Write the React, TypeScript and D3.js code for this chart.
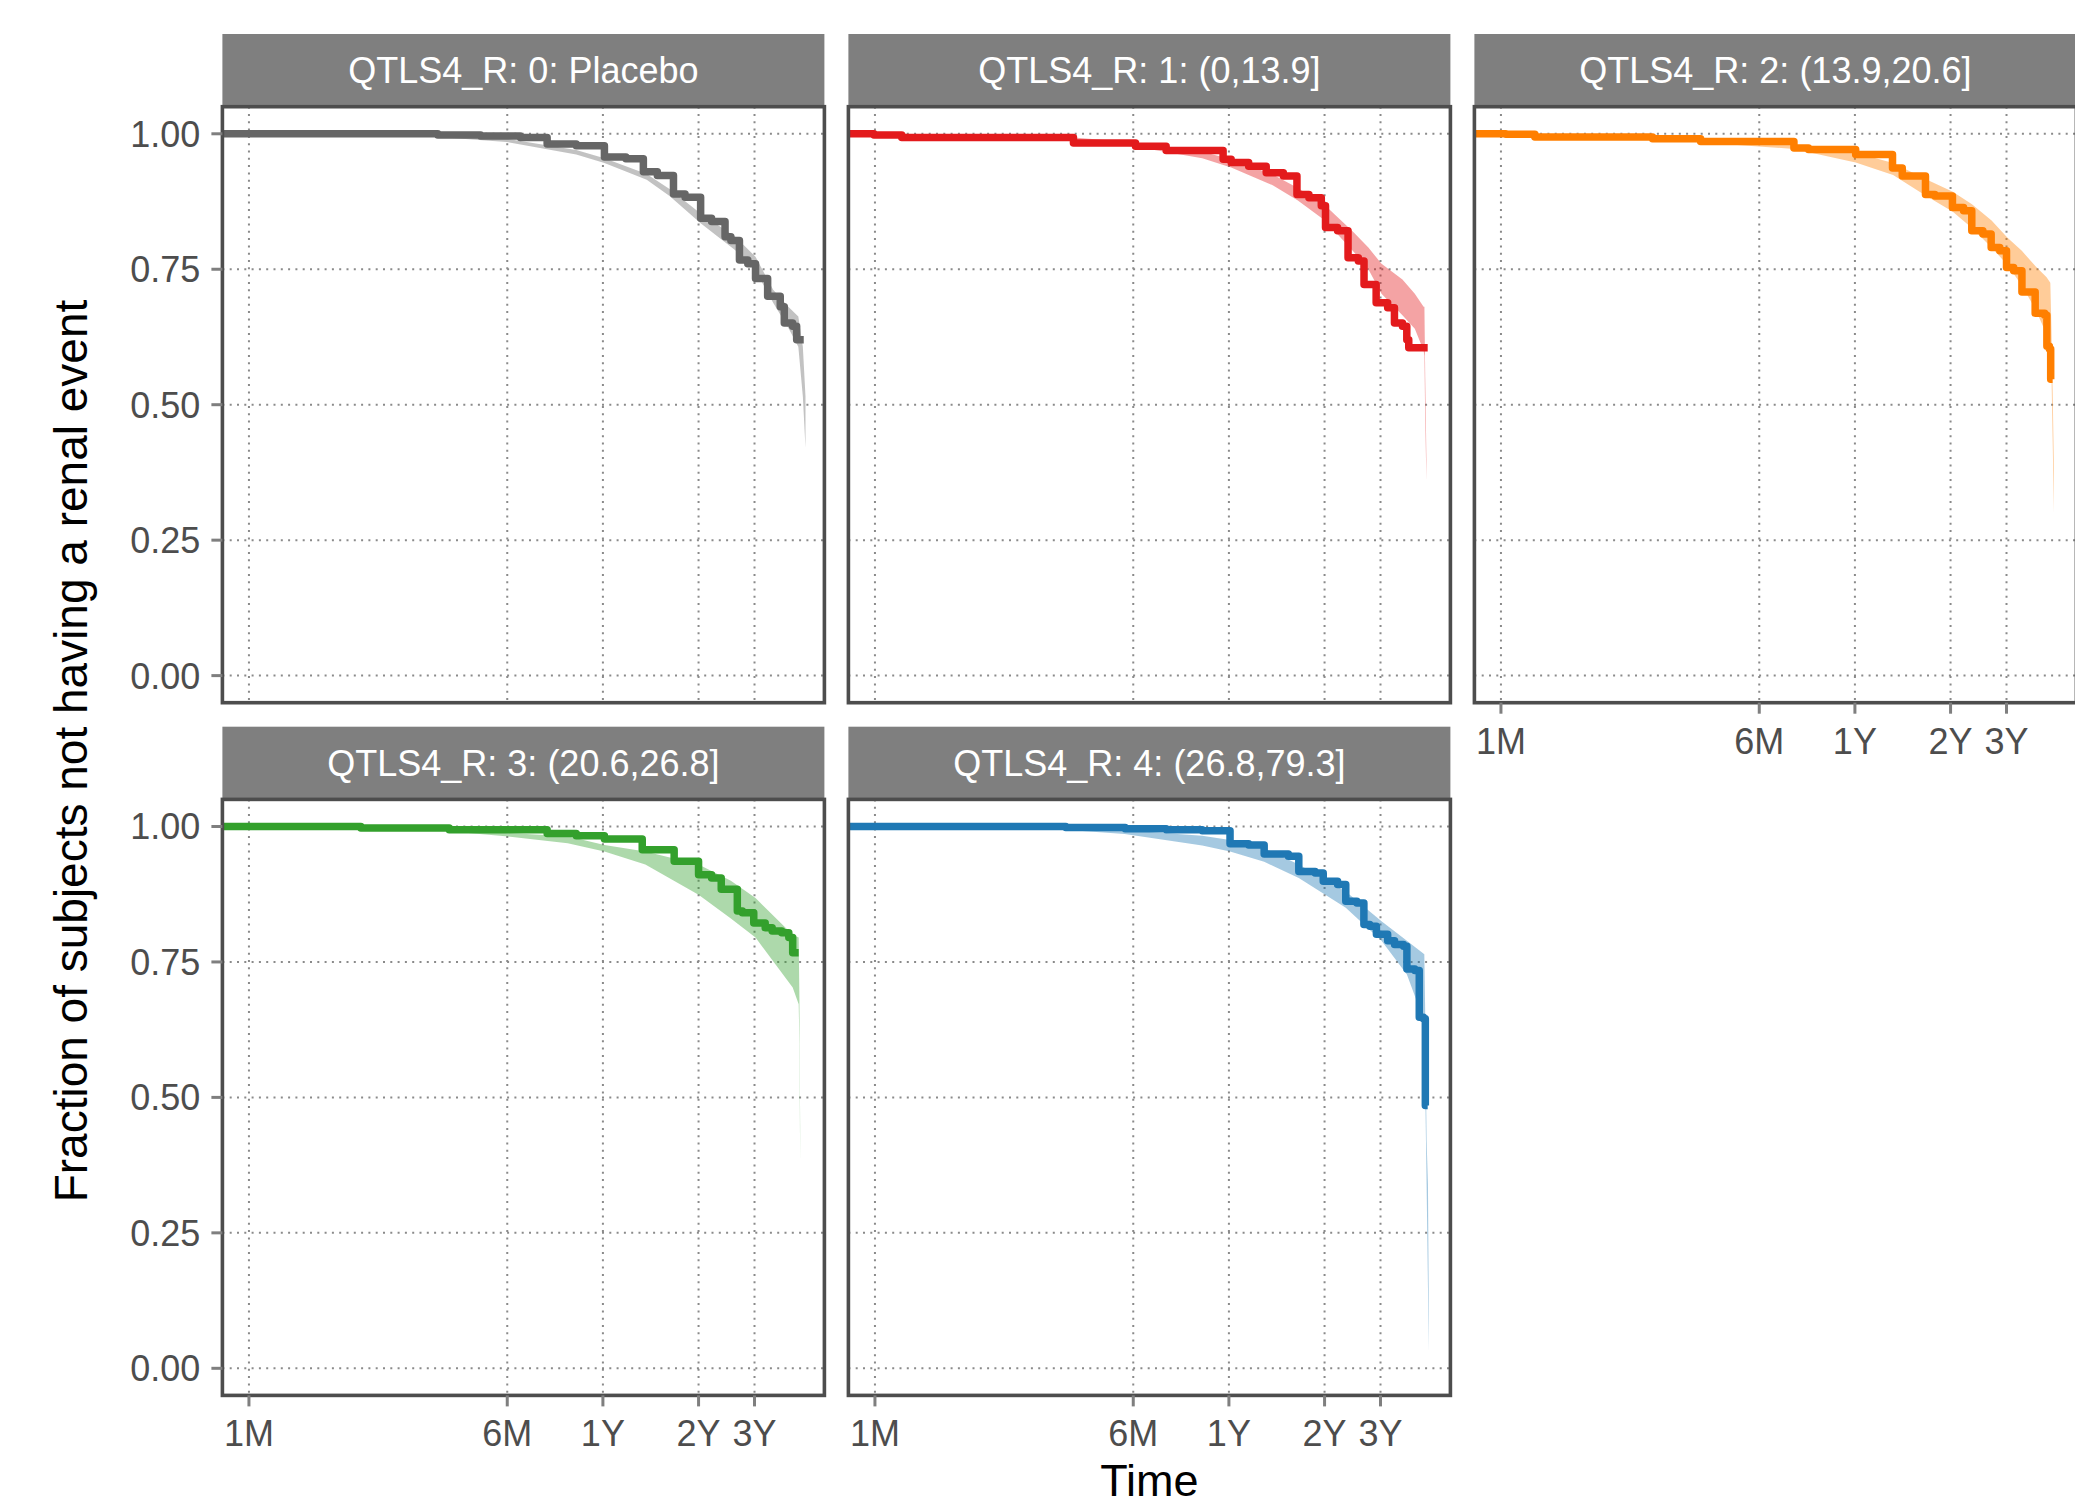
import React from 'react';
import * as d3 from 'd3';

// facet strip labels
const facetLabels = [
  'QTLS4_R: 0: Placebo',
  'QTLS4_R: 1: (0,13.9]',
  'QTLS4_R: 2: (13.9,20.6]',
  'QTLS4_R: 3: (20.6,26.8]',
  'QTLS4_R: 4: (26.8,79.3]',
];

// axis ticks (time in days, log scale)
const xTickDays = [28, 182, 364, 728, 1092];
const xTickLabels = ['1M', '6M', '1Y', '2Y', '3Y'];
const yTicks = [0, 0.25, 0.5, 0.75, 1];
const yTickLabels = ['0.00', '0.25', '0.50', '0.75', '1.00'];

// Kaplan-Meier step curves (time in days, fraction event free)
const placeboTime = [1, 110, 150, 200, 243, 300, 368, 430, 488, 540, 607, 660, 739, 800, 882, 920, 979, 1040, 1100, 1201, 1316, 1355, 1439, 1482, 1560];
const placeboSurv = [1.0, 0.998, 0.996, 0.993, 0.981, 0.978, 0.957, 0.954, 0.93, 0.923, 0.889, 0.883, 0.844, 0.838, 0.81, 0.803, 0.767, 0.76, 0.733, 0.7, 0.681, 0.651, 0.645, 0.62, 0.62];
const q1Time = [1, 27.8, 34, 118, 185, 231, 349, 370, 420, 477, 540, 596, 650, 711, 733, 800, 863, 930, 969, 1058, 1150, 1208, 1280, 1321, 1340, 1537];
const q1Surv = [1.0, 0.998, 0.993, 0.983, 0.977, 0.969, 0.953, 0.947, 0.94, 0.928, 0.922, 0.888, 0.882, 0.867, 0.827, 0.821, 0.771, 0.765, 0.722, 0.688, 0.679, 0.651, 0.645, 0.62, 0.605, 0.605];
const q2Time = [1, 29, 35.8, 84, 119, 234, 260, 366, 478, 513, 607, 650, 738, 800, 849, 920, 977, 1040, 1092, 1150, 1221, 1344, 1440, 1463, 1490, 1504, 1525];
const q2Surv = [1.0, 0.999, 0.994, 0.991, 0.986, 0.974, 0.971, 0.962, 0.937, 0.922, 0.888, 0.885, 0.864, 0.858, 0.821, 0.815, 0.79, 0.784, 0.753, 0.747, 0.708, 0.669, 0.665, 0.608, 0.603, 0.547, 0.547];
const q3Time = [1, 63, 119.5, 243, 300, 368, 484, 610, 728, 800, 858, 964, 1000, 1086, 1180, 1241, 1330, 1400, 1440, 1504];
const q3Surv = [1.0, 0.997, 0.994, 0.987, 0.983, 0.977, 0.957, 0.936, 0.911, 0.905, 0.884, 0.844, 0.841, 0.822, 0.813, 0.807, 0.804, 0.795, 0.767, 0.767];
const q4Time = [1, 111.6, 171.6, 231, 300, 367, 420, 470, 560, 604, 680, 721, 800, 849, 920, 968, 1010, 1060, 1150, 1209, 1290, 1322, 1400, 1446, 1490, 1511, 1537];
const q4Surv = [1.0, 0.998, 0.996, 0.994, 0.992, 0.968, 0.966, 0.949, 0.945, 0.917, 0.914, 0.899, 0.893, 0.862, 0.859, 0.819, 0.816, 0.801, 0.789, 0.782, 0.779, 0.737, 0.734, 0.648, 0.645, 0.485, 0.485];

// model prediction bands (time, lower, upper)
const placeboBandTime = [1, 60, 100, 181, 300, 368, 500, 590, 739, 950, 1100, 1250, 1400, 1500, 1550, 1580];
const placeboBandLower = [1.0, 0.999, 0.996, 0.985, 0.962, 0.946, 0.915, 0.885, 0.835, 0.785, 0.748, 0.688, 0.64, 0.607, 0.515, 0.42];
const placeboBandUpper = [1.0, 1.0, 0.999, 0.991, 0.97, 0.955, 0.926, 0.898, 0.853, 0.81, 0.773, 0.712, 0.68, 0.663, 0.607, 0.515];
const q1BandTime = [1, 60, 118, 185, 300, 370, 500, 600, 730, 900, 1000, 1100, 1280, 1400, 1492, 1501, 1510, 1523];
const q1BandLower = [1.0, 0.997, 0.988, 0.976, 0.955, 0.938, 0.905, 0.877, 0.84, 0.782, 0.75, 0.705, 0.665, 0.64, 0.6, 0.59, 0.47, 0.36];
const q1BandUpper = [1.0, 0.999, 0.993, 0.984, 0.967, 0.953, 0.925, 0.9, 0.868, 0.818, 0.79, 0.76, 0.731, 0.705, 0.681, 0.681, 0.55, 0.4];
const q2BandTime = [1, 60, 120, 234, 366, 480, 600, 740, 850, 980, 1100, 1220, 1350, 1460, 1500, 1512, 1525, 1540];
const q2BandLower = [1.0, 0.996, 0.984, 0.972, 0.947, 0.924, 0.888, 0.856, 0.826, 0.79, 0.758, 0.72, 0.675, 0.63, 0.6, 0.56, 0.44, 0.3];
const q2BandUpper = [1.0, 0.999, 0.99, 0.98, 0.965, 0.946, 0.918, 0.893, 0.87, 0.84, 0.808, 0.784, 0.755, 0.735, 0.725, 0.64, 0.53, 0.38];
const q3BandTime = [1, 100, 180, 282, 368, 495, 728, 920, 1100, 1440, 1504, 1512, 1520];
const q3BandLower = [1.0, 0.995, 0.982, 0.969, 0.954, 0.93, 0.874, 0.83, 0.795, 0.703, 0.672, 0.6, 0.38];
const q3BandUpper = [1.0, 0.999, 0.988, 0.982, 0.966, 0.954, 0.93, 0.9, 0.868, 0.8, 0.795, 0.68, 0.45];
const q4BandTime = [1, 100, 171, 300, 367, 470, 604, 849, 1100, 1322, 1500, 1511, 1525, 1540, 1550];
const q4BandLower = [1.0, 0.996, 0.986, 0.965, 0.954, 0.935, 0.905, 0.85, 0.789, 0.727, 0.64, 0.5, 0.34, 0.15, 0.03];
const q4BandUpper = [1.0, 0.999, 0.993, 0.983, 0.975, 0.96, 0.93, 0.88, 0.825, 0.789, 0.764, 0.64, 0.42, 0.34, 0.1];

const lineColors = ['#666666', '#e31a1c', '#ff7f00', '#33a02c', '#1f78b4'];

const curves = [
  { time: placeboTime, surv: placeboSurv, bt: placeboBandTime, lo: placeboBandLower, hi: placeboBandUpper },
  { time: q1Time, surv: q1Surv, bt: q1BandTime, lo: q1BandLower, hi: q1BandUpper },
  { time: q2Time, surv: q2Surv, bt: q2BandTime, lo: q2BandLower, hi: q2BandUpper },
  { time: q3Time, surv: q3Surv, bt: q3BandTime, lo: q3BandLower, hi: q3BandUpper },
  { time: q4Time, surv: q4Surv, bt: q4BandTime, lo: q4BandLower, hi: q4BandUpper },
];

// layout
const W = 2075, H = 1509;
const panelW = 602, panelH = 596, stripH = 72.7, gap = 24;
const left0 = 222.4, top0 = 34;
const font = '"Liberation Sans", Arial, Helvetica, sans-serif';

const x = d3.scaleLog().domain([23.1, 1812]).range([0, panelW]);
const y = d3.scaleLinear().domain([-0.05, 1.05]).range([panelH, 0]);

function Panel({ i }: { i: number }) {
  const col = i % 3, row = Math.floor(i / 3);
  const px = left0 + col * (panelW + gap);
  const stripTop = top0 + row * (stripH + panelH + gap);
  const py = stripTop + stripH;
  const showX = i >= 2;
  const showY = col === 0;
  const c = curves[i];

  const line = d3.line<number>()
    .x(k => x(c.time[k]))
    .y(k => y(c.surv[k]))
    .curve(d3.curveStepAfter);
  const area = d3.area<number>()
    .x(k => x(c.bt[k]))
    .y0(k => y(c.lo[k]))
    .y1(k => y(c.hi[k]));

  return (
    <g>
      {/* strip */}
      <rect x={px} y={stripTop} width={panelW} height={stripH} fill="#7f7f7f" />
      <text x={px + panelW / 2} y={stripTop + stripH / 2 + 12.5} textAnchor="middle"
        fontSize={36} fill="#ffffff" fontFamily={font}>{facetLabels[i]}</text>

      <g transform={`translate(${px},${py})`}>
        <defs>
          <clipPath id={`clip-${i}`}>
            <rect x={0} y={0} width={panelW} height={panelH} />
          </clipPath>
        </defs>
        <rect x={0} y={0} width={panelW} height={panelH} fill="#ffffff" />
        {/* dotted grid */}
        {yTicks.map(t => (
          <line key={'gy' + t} x1={0} x2={panelW} y1={y(t)} y2={y(t)}
            stroke="#8a8a8a" strokeWidth={2} strokeDasharray="2 5.3" />
        ))}
        {xTickDays.map(t => (
          <line key={'gx' + t} x1={x(t)} x2={x(t)} y1={0} y2={panelH}
            stroke="#8a8a8a" strokeWidth={2} strokeDasharray="2 5.3" />
        ))}
        <g clipPath={`url(#clip-${i})`}>
          <path d={area(d3.range(c.bt.length)) || ''} fill={lineColors[i]} fillOpacity={0.4} />
          <path d={line(d3.range(c.time.length)) || ''} fill="none" stroke={lineColors[i]}
            strokeWidth={7.5} strokeLinejoin="round" />
        </g>
        <rect x={0} y={0} width={panelW} height={panelH} fill="none" stroke="#4d4d4d" strokeWidth={3.6} />

        {/* axes */}
        {showY && yTicks.map((t, k) => (
          <g key={'ty' + t}>
            <line x1={-11} x2={0} y1={y(t)} y2={y(t)} stroke="#7f7f7f" strokeWidth={3} />
            <text x={-22} y={y(t)} dy="0.36em" textAnchor="end" fontSize={36}
              fill="#4d4d4d" fontFamily={font}>{yTickLabels[k]}</text>
          </g>
        ))}
        {showX && xTickDays.map((t, k) => (
          <g key={'tx' + t}>
            <line x1={x(t)} x2={x(t)} y1={panelH} y2={panelH + 11} stroke="#7f7f7f" strokeWidth={3} />
            <text x={x(t)} y={panelH + 51} textAnchor="middle" fontSize={36}
              fill="#4d4d4d" fontFamily={font}>{xTickLabels[k]}</text>
          </g>
        ))}
      </g>
    </g>
  );
}

export default function App() {
  const plotLeft = left0;
  const plotRight = left0 + 3 * panelW + 2 * gap;
  const plotTop = top0 + stripH;
  const plotBottom = top0 + 2 * (stripH + panelH) + gap;
  return (
    <svg width={W} height={H} style={{ position: 'absolute', left: 0, top: 0, background: '#ffffff' }}>
      <rect x={0} y={0} width={W} height={H} fill="#ffffff" />
      {facetLabels.map((_, i) => <Panel key={i} i={i} />)}
      <text transform={`translate(87,${(plotTop + plotBottom) / 2}) rotate(-90)`} textAnchor="middle"
        fontSize={46} fill="#000000" fontFamily={font}>Fraction of subjects not having a renal event</text>
      <text x={(plotLeft + plotRight) / 2} y={1496} textAnchor="middle" fontSize={45}
        fill="#000000" fontFamily={font}>Time</text>
    </svg>
  );
}
